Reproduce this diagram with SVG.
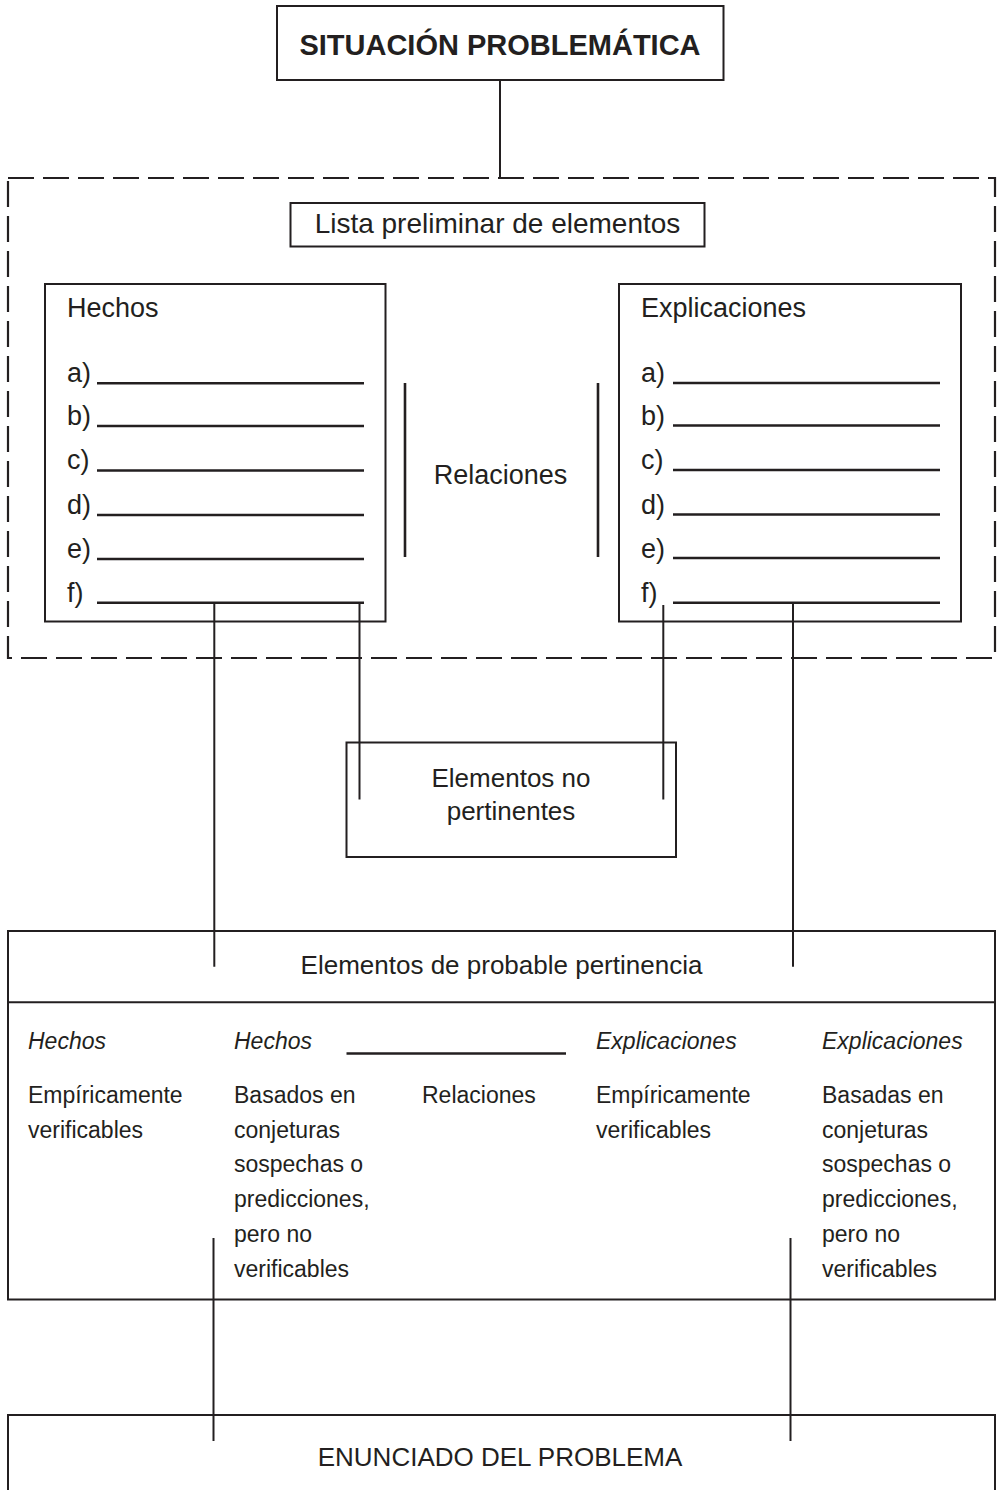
<svg xmlns="http://www.w3.org/2000/svg" width="997" height="1490" viewBox="0 0 997 1490">
<style>
.box{fill:none;stroke:#231f20;stroke-width:2}
.dash{fill:none;stroke:#231f20;stroke-width:2.2;stroke-dasharray:26 9}
.ln{stroke:#231f20;stroke-width:2;fill:none}
.ul{stroke:#231f20;stroke-width:2.6;fill:none}
text{font-family:"Liberation Sans",Arial,sans-serif;fill:#231f20}
.t27{font-size:27px}
.t26{font-size:26px}
.t23{font-size:23px}
.it{font-style:italic}
.mid{text-anchor:middle}
</style>
<rect width="997" height="1490" fill="#fff"/>
<g id="situacion">
<rect class="box" x="277" y="6" width="446.5" height="74"/>
<text x="500" y="54.5" class="mid" font-size="29" font-weight="bold">SITUACIÓN PROBLEMÁTICA</text>
</g>
<g id="lista-preliminar">
<rect class="dash" x="8" y="178" width="987" height="480"/>
<rect class="box" x="290.5" y="203" width="414" height="43.5"/>
<text x="497.5" y="233" class="mid" font-size="28">Lista preliminar de elementos</text>
</g>
<g id="hechos">
<rect class="box" x="45" y="284" width="340.5" height="337.5"/>
<text x="67" y="317" class="t27">Hechos</text>
<g class="t27">
<text x="67" y="382">a)</text>
<text x="67" y="425">b)</text>
<text x="67" y="469">c)</text>
<text x="67" y="514">d)</text>
<text x="67" y="558">e)</text>
<text x="67" y="602">f)</text>
</g>
<path class="ul" d="M97 383.3H364M97 426H364M97 470.5H364M97 515H364M97 559H364M97 602.7H364"/>
</g>
<g id="relaciones">
<path class="ul" d="M405 383V557M598 383V557"/>
<text x="500.5" y="484" class="t27 mid">Relaciones</text>
</g>
<g id="explicaciones">
<rect class="box" x="619" y="284" width="342" height="337.5"/>
<text x="641" y="317" class="t27">Explicaciones</text>
<g class="t27">
<text x="641" y="382">a)</text>
<text x="641" y="425">b)</text>
<text x="641" y="469">c)</text>
<text x="641" y="514">d)</text>
<text x="641" y="558">e)</text>
<text x="641" y="602">f)</text>
</g>
<path class="ul" d="M673 383H940M673 425.5H940M673 470H940M673 514.5H940M673 558H940M673 602.7H940"/>
</g>
<g id="no-pertinentes">
<rect class="box" x="346.5" y="742.5" width="329.5" height="114.5"/>
<text x="511" y="787" class="t26 mid">Elementos no</text>
<text x="511" y="819.5" class="t26 mid">pertinentes</text>
</g>
<g id="probable-pertinencia">
<rect class="box" x="8" y="931" width="987" height="368.5"/>
<path class="ln" d="M8 1002.3H995"/>
<text x="501.5" y="974" class="t26 mid">Elementos de probable pertinencia</text>
<g class="t23">
<text x="28" y="1049" class="it">Hechos</text>
<text x="234" y="1049" class="it">Hechos</text>
<text x="596" y="1049" class="it">Explicaciones</text>
<text x="822" y="1049" class="it">Explicaciones</text>
<text x="28" y="1103">Empíricamente</text>
<text x="28" y="1138">verificables</text>
<text x="234" y="1103">Basados en</text>
<text x="234" y="1138">conjeturas</text>
<text x="234" y="1172">sospechas o</text>
<text x="234" y="1207">predicciones,</text>
<text x="234" y="1242">pero no</text>
<text x="234" y="1277">verificables</text>
<text x="422" y="1103">Relaciones</text>
<text x="596" y="1103">Empíricamente</text>
<text x="596" y="1138">verificables</text>
<text x="822" y="1103">Basadas en</text>
<text x="822" y="1138">conjeturas</text>
<text x="822" y="1172">sospechas o</text>
<text x="822" y="1207">predicciones,</text>
<text x="822" y="1242">pero no</text>
<text x="822" y="1277">verificables</text>
</g>
<path class="ul" d="M346.5 1053.5H566"/>
</g>
<g id="enunciado">
<rect class="box" x="8" y="1415" width="987" height="90"/>
<text x="500" y="1466" class="t26 mid">ENUNCIADO DEL PROBLEMA</text>
</g>
<g id="connectors">
<path class="ln" d="M500 80V178"/>
<path class="ln" d="M214.3 602.7V966.7"/>
<path class="ln" d="M359.5 602.7V799.5"/>
<path class="ln" d="M663.3 605V799.5"/>
<path class="ln" d="M793 602.7V966.7"/>
<path class="ln" d="M213.5 1238V1441"/>
<path class="ln" d="M790.5 1238V1441"/>
</g>
</svg>
